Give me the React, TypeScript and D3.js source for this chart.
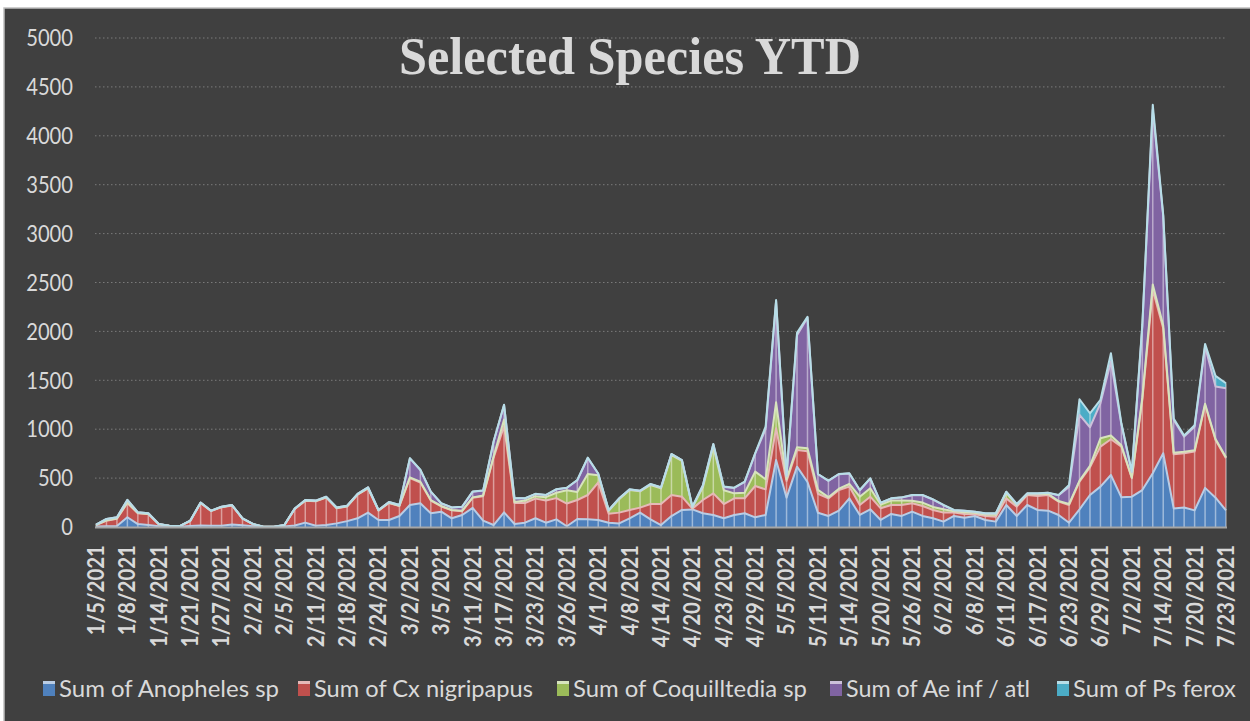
import React from 'react'
import * as d3 from 'd3'

// collection dates (only every 3rd one is labelled on the axis)
const dates = [
  '1/5/2021', '1/6/2021', '1/7/2021', '1/8/2021', '1/11/2021', '1/12/2021', '1/14/2021', '1/18/2021', '1/19/2021', '1/21/2021',
  '1/25/2021', '1/26/2021', '1/27/2021', '1/28/2021', '2/1/2021', '2/2/2021', '2/3/2021', '2/4/2021', '2/5/2021', '2/8/2021',
  '2/9/2021', '2/11/2021', '2/15/2021', '2/16/2021', '2/18/2021', '2/22/2021', '2/23/2021', '2/24/2021', '2/25/2021', '3/1/2021',
  '3/2/2021', '3/3/2021', '3/4/2021', '3/5/2021', '3/8/2021', '3/9/2021', '3/11/2021', '3/15/2021', '3/16/2021', '3/17/2021',
  '3/18/2021', '3/22/2021', '3/23/2021', '3/24/2021', '3/25/2021', '3/26/2021', '3/29/2021', '3/30/2021', '4/1/2021', '4/5/2021',
  '4/6/2021', '4/8/2021', '4/12/2021', '4/13/2021', '4/14/2021', '4/15/2021', '4/19/2021', '4/20/2021', '4/21/2021', '4/22/2021',
  '4/23/2021', '4/26/2021', '4/27/2021', '4/29/2021', '5/3/2021', '5/4/2021', '5/5/2021', '5/6/2021', '5/10/2021', '5/11/2021',
  '5/12/2021', '5/13/2021', '5/14/2021', '5/17/2021', '5/18/2021', '5/20/2021', '5/24/2021', '5/25/2021', '5/26/2021', '5/27/2021',
  '6/1/2021', '6/2/2021', '6/3/2021', '6/7/2021', '6/8/2021', '6/9/2021', '6/10/2021', '6/11/2021', '6/15/2021', '6/16/2021',
  '6/17/2021', '6/21/2021', '6/22/2021', '6/23/2021', '6/24/2021', '6/28/2021', '6/29/2021', '6/30/2021', '7/1/2021', '7/2/2021',
  '7/7/2021', '7/12/2021', '7/14/2021', '7/15/2021', '7/19/2021', '7/20/2021', '7/21/2021', '7/22/2021', '7/23/2021',
]

const anopheles = [
  5, 8, 10, 100, 30, 20, 8, 4, 3, 10,
  15, 12, 14, 25, 18, 8, 1, 1, 4, 15,
  45, 12, 20, 37, 60, 89, 147, 72, 72, 112,
  225, 242, 140, 157, 89, 123, 195, 65, 20, 150,
  31, 44, 89, 44, 78, 8, 82, 78, 72, 44,
  37, 89, 147, 78, 20, 112, 174, 180, 140, 123,
  89, 123, 140, 99, 123, 685, 300, 617, 460, 145,
  113, 167, 293, 123, 181, 72, 133, 113, 157, 113,
  89, 55, 113, 95, 113, 72, 55, 225, 113, 225,
  174, 167, 123, 44, 181, 327, 413, 532, 303, 310,
  378, 550, 754, 190, 200, 170, 400, 300, 170,
]
const cxNigripapus = [
  15, 57, 75, 145, 110, 112, 20, 8, 6, 50,
  230, 151, 189, 195, 68, 21, 1, 1, 14, 170,
  223, 250, 280, 155, 150, 241, 248, 96, 173, 103,
  275, 213, 130, 53, 81, 39, 103, 250, 690, 880,
  214, 201, 201, 226, 217, 232, 194, 249, 383, 91,
  110, 85, 51, 157, 215, 215, 136, 8, 136, 221,
  146, 170, 153, 320, 262, 325, 170, 170, 315, 195,
  180, 211, 120, 102, 129, 119, 92, 112, 85, 102,
  85, 92, 34, 38, 17, 41, 51, 68, 95, 102,
  143, 160, 136, 181, 283, 283, 409, 365, 519, 188,
  922, 1875, 1278, 553, 554, 601, 848, 590, 532,
]
const coquillettidia = [
  0, 3, 3, 5, 2, 2, 1, 1, 0, 2,
  2, 2, 2, 2, 1, 1, 0, 0, 1, 2,
  2, 3, 3, 3, 2, 3, 3, 2, 3, 3,
  8, 9, 6, 5, 4, 5, 5, 7, 10, 70,
  10, 25, 25, 35, 55, 135, 82, 215, 75, 30,
  138, 204, 167, 195, 160, 408, 365, 12, 129, 478,
  140, 51, 58, 147, 103, 265, 20, 28, 30, 40,
  12, 14, 27, 85, 86, 39, 45, 45, 27, 35,
  31, 34, 13, 17, 15, 15, 19, 57, 17, 8,
  18, 13, 6, 10, 11, 15, 85, 38, 13, 7,
  20, 55, 28, 17, 16, 14, 12, 10, 10,
]
const aeInfAtl = [
  5, 14, 12, 26, 8, 6, 1, 1, 1, 3,
  3, 2, 3, 3, 2, 1, 1, 1, 1, 3,
  6, 5, 7, 5, 6, 5, 8, 4, 8, 7,
  194, 119, 85, 27, 26, 41, 58, 50, 153, 148,
  38, 23, 23, 22, 35, 25, 120, 163, 15, 7,
  6, 5, 5, 7, 9, 10, 8, 6, 19, 25,
  35, 55, 111, 184, 512, 1035, 30, 1145, 1335, 160,
  167, 148, 107, 66, 100, 17, 21, 31, 56, 75,
  76, 42, 12, 15, 10, 10, 13, 9, 8, 7,
  7, 9, 60, 175, 671, 395, 358, 756, 215, 55,
  730, 1786, 1120, 335, 154, 241, 585, 536, 707,
]
const psFerox = [
  0, 0, 0, 2, 0, 0, 0, 0, 0, 0,
  0, 0, 0, 0, 0, 0, 0, 0, 0, 0,
  0, 0, 0, 0, 0, 0, 0, 0, 0, 0,
  2, 2, 1, 1, 0, 0, 1, 1, 2, 2,
  1, 1, 1, 1, 1, 1, 3, 4, 2, 2,
  2, 2, 2, 3, 2, 2, 2, 2, 2, 2,
  3, 3, 2, 4, 26, 10, 5, 25, 10, 2,
  2, 2, 2, 2, 2, 2, 2, 2, 2, 2,
  2, 2, 2, 2, 2, 2, 2, 2, 2, 2,
  2, 2, 2, 20, 160, 143, 34, 86, 10, 6,
  16, 51, 12, 15, 11, 14, 27, 109, 51,
]

const seriesNames = ['Sum of Anopheles sp', 'Sum of Cx nigripapus', 'Sum of Coquilltedia sp', 'Sum of Ae inf / atl', 'Sum of Ps ferox']
const fills = ['#4f81bd', '#c0504d', '#9bbb59', '#8064a2', '#4bacc6']
const edges = ['#b9cde5', '#e6b9b8', '#d7e4bd', '#ccc1da', '#b7dee8']

const yTicks = [0, 500, 1000, 1500, 2000, 2500, 3000, 3500, 4000, 4500, 5000]

export default function App() {
  const keys = ['a', 'cx', 'coq', 'ae', 'ps']
  const rows = dates.map((d, i) => ({
    date: d,
    a: anopheles[i],
    cx: cxNigripapus[i],
    coq: coquillettidia[i],
    ae: aeInfAtl[i],
    ps: psFerox[i],
  }))
  const stacked = d3.stack<any>().keys(keys)(rows)

  const x = d3.scalePoint<string>().domain(dates).range([96, 1226])
  const y = d3.scaleLinear().domain([0, 5000]).range([527, 38])

  const area = d3.area<any>()
    .x((d) => x(d.data.date) as number)
    .y0((d) => y(d[0]))
    .y1((d) => y(d[1]))
  const topLine = d3.line<any>()
    .x((d) => x(d.data.date) as number)
    .y((d) => y(d[1]))

  const totals = rows.map((r) => r.a + r.cx + r.coq + r.ae + r.ps)

  // legend layout
  const legendX = [43, 298, 557, 830, 1057]
  const legendW = [220, 219, 234, 184, 163]

  const labelLen = (s: string) => {
    const digits = s.replace(/\//g, '').length
    const slashes = s.length - digits
    return (digits * 0.507 + slashes * 0.4) * 23.5
  }

  return (
    <svg width={1250} height={721} style={{ position: 'absolute', left: 0, top: 0 }}>
      <rect x={0} y={0} width={1250} height={721} fill="#ffffff" />
      <rect x={4} y={8} width={1260} height={730} fill="#404040" stroke="#bfbfbf" strokeWidth={1.5} />

      {/* gridlines */}
      {yTicks.slice(1).map((t) => (
        <line key={t} x1={95} x2={1226} y1={y(t)} y2={y(t)}
          stroke="#7a7a7a" strokeWidth={1} strokeDasharray="1.5 2.5" />
      ))}

      {/* y tick labels */}
      {yTicks.map((t) => (
        <text key={t} x={73} y={y(t)} dy="0.36em" textAnchor="end"
          fontFamily="Lato, 'Open Sans', sans-serif" fontSize={23} fill="#d9d9d9"
          textLength={String(t).length * 11.7} lengthAdjust="spacingAndGlyphs">{t}</text>
      ))}

      {/* stacked areas */}
      {stacked.map((s, i) => (
        <path key={i} d={area(s) as string} fill={fills[i]} />
      ))}

      {/* drop lines */}
      {dates.map((d, i) => (
        <line key={d} x1={x(d)} x2={x(d)} y1={y(0)} y2={y(totals[i])}
          stroke="#ffffff" strokeOpacity={0.45} strokeWidth={1.5} />
      ))}

      {/* series edges */}
      {stacked.map((s, i) => (
        <path key={i} d={topLine(s) as string} fill="none" stroke={edges[i]} strokeWidth={2} strokeLinejoin="round" />
      ))}

      {/* x axis */}
      <line x1={95} x2={1227} y1={527.5} y2={527.5} stroke="#a6a6a6" strokeWidth={2} />
      {dates.map((d, i) => i % 3 === 0 ? (
        <text key={d} transform={`translate(${x(d)},545) rotate(-90)`} dy="0.36em" textAnchor="end"
          fontFamily="Lato, 'Open Sans', sans-serif" fontWeight="bold" fontSize={22} fill="#d9d9d9"
          textLength={labelLen(d)} lengthAdjust="spacingAndGlyphs">{d}</text>
      ) : null)}

      {/* title */}
      <text x={630} y={74} textAnchor="middle" fontFamily="'Liberation Serif', 'DejaVu Serif', serif"
        fontWeight="bold" fontSize={52} fill="#d9d9d9" textLength={462} lengthAdjust="spacingAndGlyphs">
        Selected Species YTD
      </text>

      {/* legend */}
      {seriesNames.map((n, i) => (
        <g key={n}>
          <rect x={legendX[i]} y={681} width={12} height={15} fill={fills[i]} />
          <rect x={legendX[i]} y={681} width={12} height={3} fill={edges[i]} />
          <text x={legendX[i] + 16} y={697} fontFamily="Lato, 'Open Sans', sans-serif" fontSize={24}
            fill="#d9d9d9" textLength={legendW[i]} lengthAdjust="spacingAndGlyphs">{n}</text>
        </g>
      ))}
    </svg>
  )
}
